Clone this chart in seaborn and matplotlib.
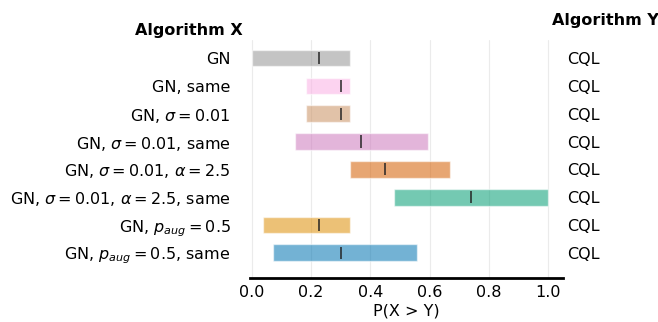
import numpy as np
import pandas as pd
import matplotlib
matplotlib.use("Agg")
import matplotlib.pyplot as plt
import seaborn as sns

labels = ["GN", "GN, same", r"GN, $\sigma = 0.01$", r"GN, $\sigma = 0.01$, same",
          r"GN, $\sigma = 0.01$, $\alpha = 2.5$", r"GN, $\sigma = 0.01$, $\alpha = 2.5$, same",
          r"GN, $p_{aug} = 0.5$", r"GN, $p_{aug} = 0.5$, same"]
right_labels = ["CQL"] * 8
lower = [0.0, 0.185, 0.185, 0.148, 0.333, 0.48, 0.037, 0.074]
upper = [0.333, 0.333, 0.333, 0.596, 0.667, 1.0, 0.333, 0.556]
median = [0.226, 0.30, 0.30, 0.37, 0.448, 0.74, 0.226, 0.30]
colors = ['#949494', '#fbafe4', '#ca9161', '#cc78bc', '#d55e00', '#029e73', '#de8f05', '#0173b2']
xticks = [0.0, 0.2, 0.4, 0.6, 0.8, 1.0]

sns.set_style("white")
plt.rcParams['font.family'] = ['DejaVu Sans']
plt.rcParams['text.color'] = 'black'
plt.rcParams['xtick.color'] = 'black'
plt.rcParams['ytick.color'] = 'black'
plt.rcParams['axes.labelcolor'] = 'black'

FS = 11.5

df = pd.DataFrame({"label": labels, "lo": lower, "hi": upper, "med": median})
df["width"] = df["hi"] - df["lo"]

fig = plt.figure(figsize=(6.58, 3.22), dpi=100)
ax = fig.add_axes([0.380, 0.137, 0.476, 0.739])
y = np.arange(len(df))
ax.barh(y, df["width"], left=df["lo"], height=0.6, color=colors, alpha=0.55, zorder=2)
ax.vlines(df["med"], y - 0.22, y + 0.22, color='#222222', lw=1.2, alpha=0.9, zorder=3)

ax.set_xlim(-0.005, 1.05)
ax.set_ylim(7.9, -0.65)
ax.set_xticks(xticks)
ax.set_xticklabels([f"{v:.1f}" for v in xticks], fontsize=FS)
ax.set_yticks(y)
ax.set_yticklabels(df["label"], fontsize=FS)
ax.tick_params(axis='y', length=0, pad=14)
ax.tick_params(axis='x', length=0, pad=5)
ax.xaxis.grid(True, color='#ebebeb', lw=0.8, zorder=0)
for s in ['top', 'right', 'left']:
    ax.spines[s].set_visible(False)
ax.spines['bottom'].set_linewidth(2)
ax.spines['bottom'].set_color('black')
ax.set_xlabel("P(X > Y)", fontsize=FS, labelpad=3)

ax2 = ax.twinx()
ax2.set_ylim(ax.get_ylim())
ax2.set_yticks(y)
ax2.set_yticklabels(right_labels, fontsize=FS)
ax2.tick_params(axis='y', length=0, pad=3)
for s in ['top', 'right', 'left', 'bottom']:
    ax2.spines[s].set_visible(False)

fig.text(243/658, 1 - 30/322, "Algorithm X", fontsize=FS, fontweight='bold', ha='right', va='center')
fig.text(552/658, 1 - 20/322, "Algorithm Y", fontsize=FS, fontweight='bold', ha='left', va='center')

fig.savefig("out.png", dpi=100)
